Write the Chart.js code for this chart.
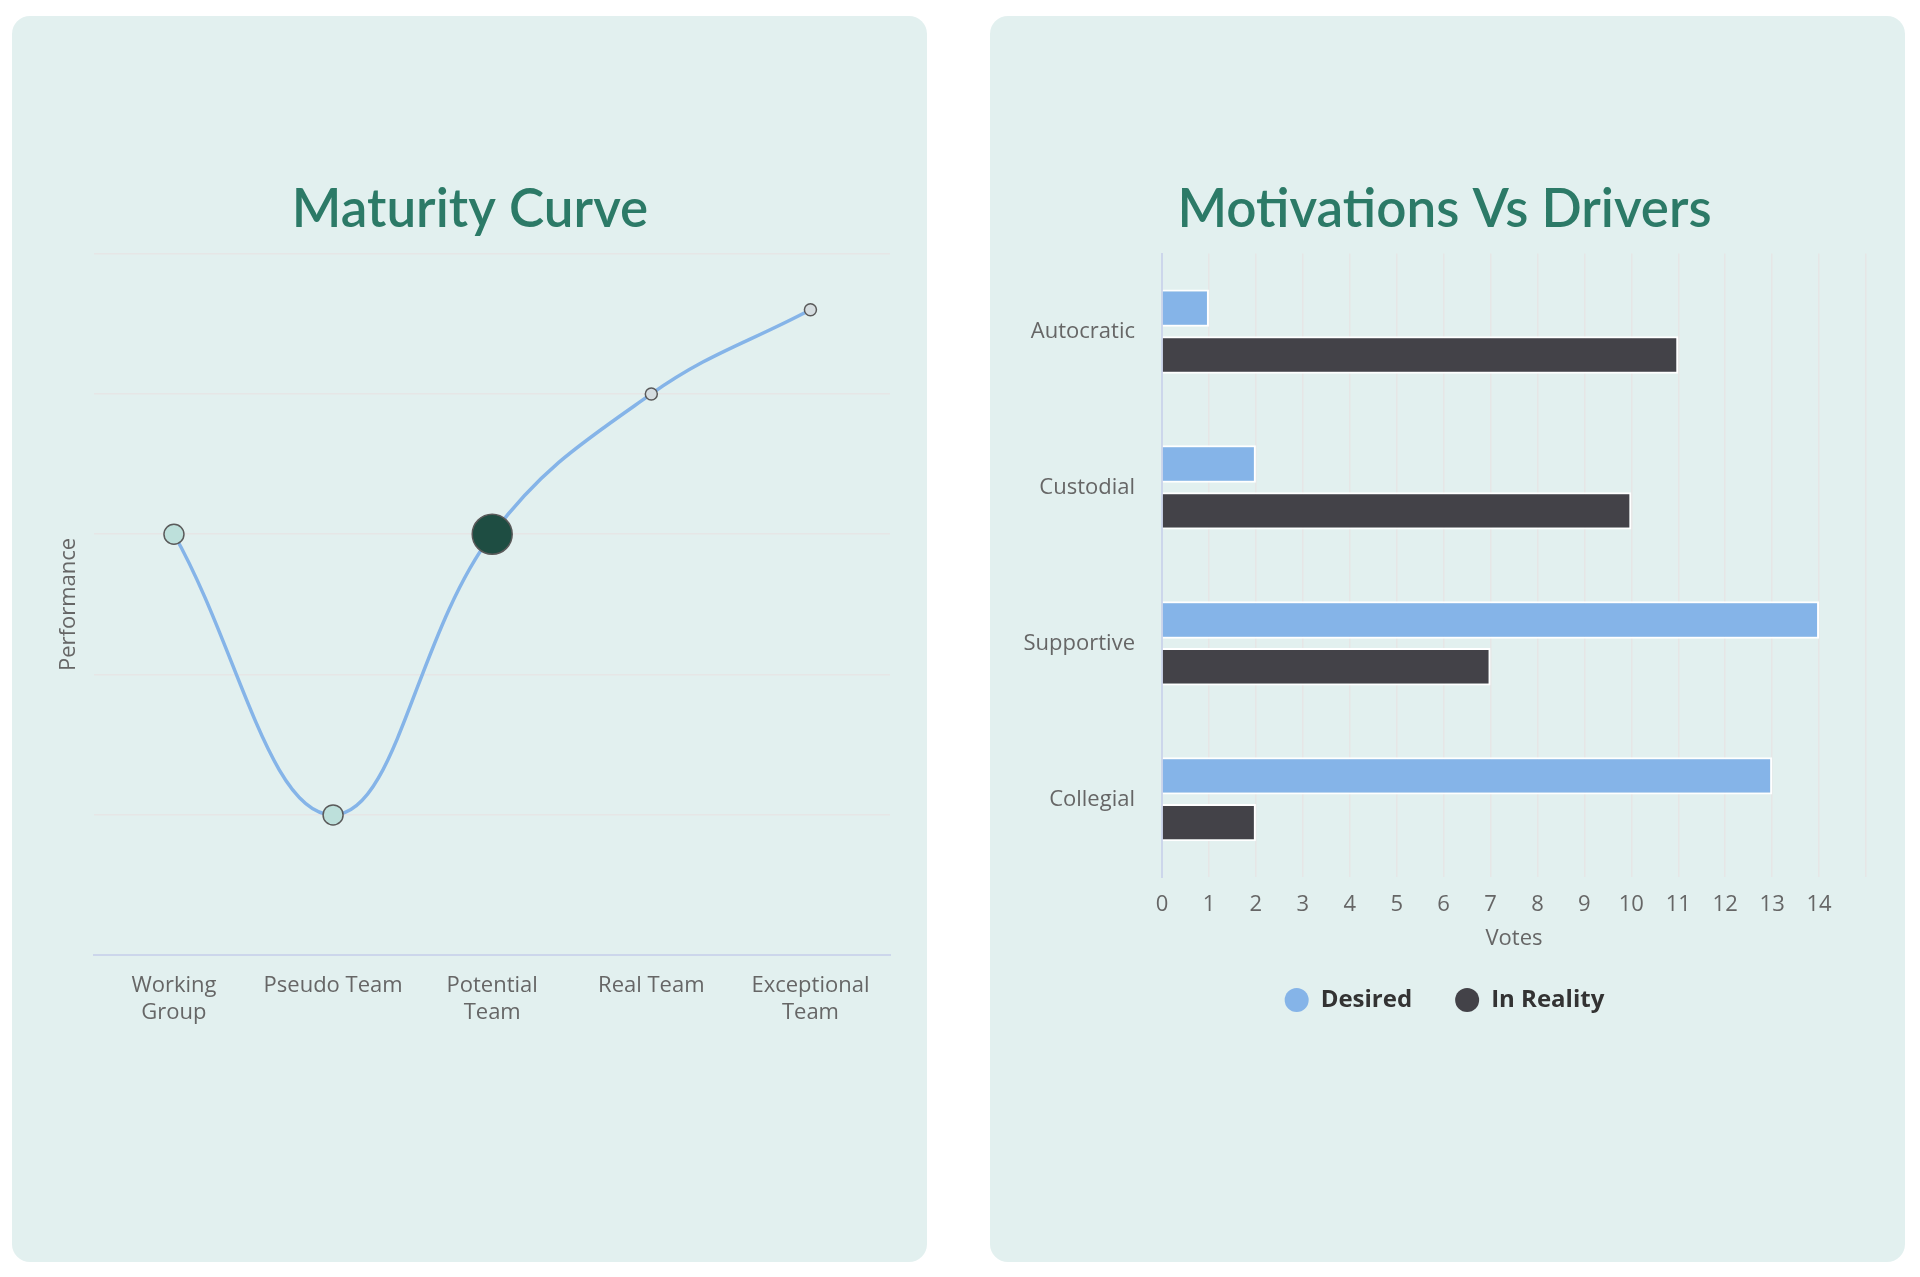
<!DOCTYPE html>
<html>
<head>
<meta charset="utf-8">
<title>Maturity Curve / Motivations Vs Drivers</title>
<script src="https://cdn.jsdelivr.net/npm/chart.js@4/dist/chart.umd.min.js"></script>
<style>
  html, body { margin: 0; padding: 0; background: #fff; }
  body { width: 1920px; height: 1277px; position: relative; overflow: hidden; }
  .card {
    position: absolute; top: 16px; width: 915px; height: 1246px;
    background: #e2f0ef; border-radius: 18px;
  }
  #card1 { left: 12px; }
  #card2 { left: 990px; }
  .card canvas { position: absolute; left: 0; top: 0; }
</style>
</head>
<body>
<div class="card" id="card1"><canvas id="maturityChart"></canvas></div>
<div class="card" id="card2"><canvas id="motivationChart"></canvas></div>

<script>
// maturity curve data
const stages = [['Working', 'Group'], 'Pseudo Team', ['Potential', 'Team'], 'Real Team', ['Exceptional', 'Team']];
const performance = [3, 1, 3, 4, 4.6];
const stageRadius = [10, 10, 20, 6, 6];
const stageColors = ['#bde0db', '#bde0db', '#1e4d42', '#d5dde0', '#d5dde0'];

// motivations vs drivers data
const styles = ['Autocratic', 'Custodial', 'Supportive', 'Collegial'];
const desired = [1, 2, 14, 13];
const inReality = [11, 10, 7, 2];

const labelFont = { family: '"Open Sans", sans-serif', size: 22 };
const titleFont = { family: 'Lato, sans-serif', size: 53, weight: '600' };
const titleColor = '#2c7a67';
const gridColor = '#e6e6e6';
const axisLine = '#ccd6eb';

Chart.defaults.font.family = '"Open Sans", sans-serif';
Chart.defaults.color = '#666';

new Chart('maturityChart', {
  type: 'line',
  data: {
    labels: stages,
    datasets: [{
      label: 'Performance',
      data: performance,
      borderColor: '#85b4e8',
      borderWidth: 3.5,
      tension: 0.4,
      fill: false,
      pointRadius: stageRadius,
      pointBackgroundColor: stageColors,
      pointBorderColor: '#5a5a5a',
      pointBorderWidth: 1.5,
    }],
  },
  options: {
    responsive: true,
    maintainAspectRatio: false,
    animation: false,
    layout: { padding: { top: 162, left: 38, right: 37, bottom: 219 } },
    plugins: {
      legend: { display: false },
      tooltip: { enabled: false },
      title: {
        display: true,
        text: 'Maturity Curve',
        color: titleColor,
        font: titleFont,
        padding: { top: 0, bottom: 12 },
      },
    },
    scales: {
      x: {
        offset: true,
        grid: { display: false, drawTicks: false },
        border: { display: true, color: axisLine, width: 2 },
        ticks: { color: '#666', font: { ...labelFont, lineHeight: 1.2 }, padding: 17.5, maxRotation: 0 },
      },
      y: {
        min: 0,
        max: 5,
        ticks: { display: false, stepSize: 1 },
        grid: { color: gridColor, drawTicks: false, lineWidth: 1.5 },
        border: { display: false },
        title: {
          display: true,
          text: 'Performance',
          color: '#666',
          font: labelFont,
          padding: { top: 6, bottom: 12 },
        },
      },
    },
  },
});

new Chart('motivationChart', {
  type: 'bar',
  data: {
    labels: styles,
    datasets: [
      {
        label: 'Desired',
        data: desired,
        backgroundColor: '#85b4e8',
        borderColor: '#ffffff',
        borderWidth: 2,
      },
      {
        label: 'In Reality',
        data: inReality,
        backgroundColor: '#434248',
        borderColor: '#ffffff',
        borderWidth: 2,
      },
    ],
  },
  options: {
    indexAxis: 'y',
    responsive: true,
    maintainAspectRatio: false,
    animation: false,
    datasets: { bar: { categoryPercentage: 0.6, barPercentage: 0.8 } },
    layout: { padding: { top: 162, left: 33, right: 39, bottom: 240 } },
    plugins: {
      tooltip: { enabled: false },
      title: {
        display: true,
        text: 'Motivations Vs Drivers',
        color: titleColor,
        font: titleFont,
        padding: { top: 0, bottom: 12 },
      },
      legend: {
        position: 'bottom',
        labels: {
          usePointStyle: true,
          pointStyle: 'circle',
          pointStyleWidth: 24,
          boxHeight: 17,
          padding: 43,
          color: '#333',
          font: { family: '"Open Sans", sans-serif', size: 24, weight: 'bold' },
          generateLabels: (chart) =>
            Chart.defaults.plugins.legend.labels.generateLabels(chart).map((item) => ({
              ...item,
              strokeStyle: item.fillStyle,
              lineWidth: 0,
            })),
        },
      },
    },
    scales: {
      x: {
        min: 0,
        max: 15,
        ticks: {
          stepSize: 1,
          color: '#666',
          font: labelFont,
          padding: 14,
          callback: (value) => (value === 15 ? '' : value),
        },
        grid: { color: gridColor, drawTicks: false, lineWidth: 1.5 },
        border: { display: false },
        title: {
          display: true,
          text: 'Votes',
          color: '#666',
          font: labelFont,
          padding: { top: -6, bottom: -7 },
        },
      },
      y: {
        grid: { display: false, drawTicks: false },
        border: { display: true, color: axisLine, width: 2 },
        ticks: { color: '#666', font: labelFont, padding: 27 },
        afterFit: (scale) => { scale.width = 139; },
      },
    },
  },
});
</script>
</body>
</html>
